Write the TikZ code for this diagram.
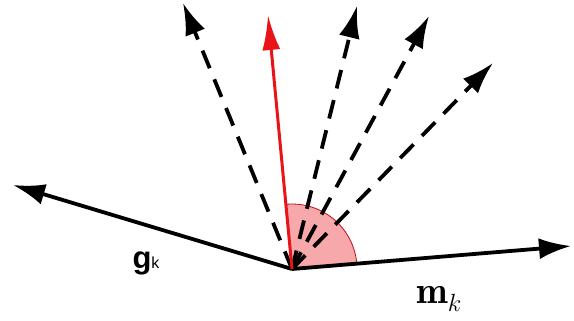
\documentclass[tikz,border=0pt]{standalone}
\usepackage{fontspec}
\newfontfamily\lsans{Liberation Sans}
\usetikzlibrary{arrows.meta}
\definecolor{sectorpink}{RGB}{247,168,170}
\definecolor{arrowred}{RGB}{232,20,24}
\begin{document}
\begin{tikzpicture}[x=1pt,y=-1pt,
  vec/.style={line width=3.8pt,-{Latex[length=32pt,width=21pt]}},
  dvec/.style={vec,dash pattern=on 19pt off 12pt},
  rvec/.style={line width=3pt,arrowred,-{Latex[length=35pt,width=18pt]}},
  lbl/.style={inner sep=0pt}]
\useasboundingbox (0,0) rectangle (574,321);
\coordinate (O) at (292,269);
\coordinate (G) at (13,185);
\coordinate (M) at (571,246);
\coordinate (R) at (268,15);
\coordinate (D1) at (183,3);
\coordinate (D2) at (357,6);
\coordinate (D3) at (429,16);
\coordinate (D4) at (493,63);
% sector
\fill[sectorpink] (O) -- ++(-4.7:65) arc[start angle=-4.7,end angle=-95.4,radius=65] -- cycle;
\draw[arrowred!80!black,line width=0.8pt] (O) ++(-4.7:65) arc[start angle=-4.7,end angle=-95.4,radius=65];
% dashed candidates
\draw[dvec] (O) -- (D1);
\draw[dvec] (O) -- (D2);
\draw[dvec] (O) -- (D3);
\draw[dvec] (O) -- (D4);
% solid vectors
\draw[vec] (O) -- (G);
\draw[vec] (O) -- (M);
\draw[rvec] (O) -- (R);
% labels
\node[lbl] (gk) at (146,263) {\lsans\fontsize{31}{34}\selectfont\bfseries g\fontsize{16}{18}\mdseries\selectfont k};
\node[lbl] (mk) at (439,299) {\fontsize{38}{41}\selectfont$\mathbf{m}_k$};
\end{tikzpicture}
\end{document}
